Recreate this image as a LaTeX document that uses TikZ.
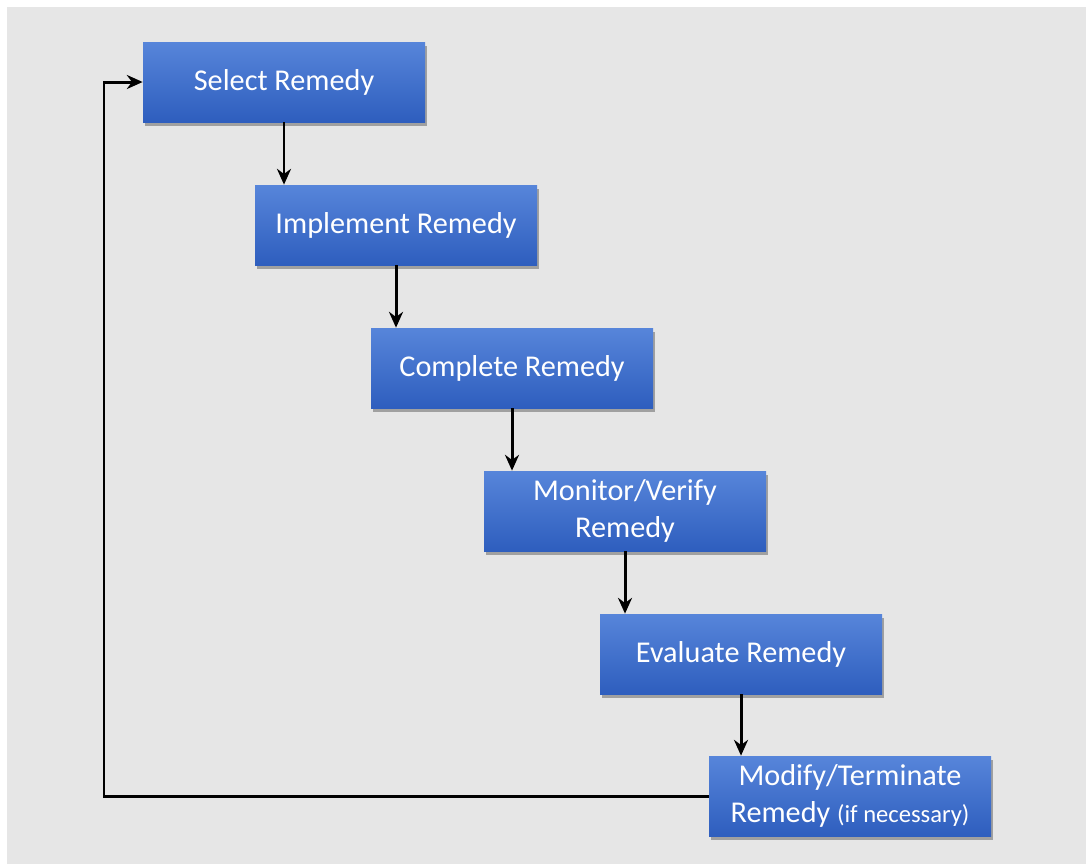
\documentclass[tikz,border=0pt]{standalone}
\usepackage{fontspec}
\setmainfont{Carlito}
\usetikzlibrary{shadows,arrows.meta}
\definecolor{boxtop}{HTML}{5785DA}
\definecolor{boxbot}{HTML}{2E5EBE}
\definecolor{bg}{HTML}{E6E6E6}
\tikzset{
 stepbox/.style={rectangle, minimum width=5.64cm, minimum height=1.6cm, inner sep=2pt,
  top color=boxtop, bottom color=boxbot, text=white, align=center,
  font=\fontsize{17.2}{21.5}\selectfont,
  drop shadow={shadow xshift=0.04cm, shadow yshift=-0.08cm, fill=black, opacity=0.3}},
 flow/.style={-{Stealth[length=9pt,width=8pt]}, line width=1.7pt}
}
\begin{document}
\begin{tikzpicture}
\useasboundingbox (0,0) rectangle (21.72,-17.28);
\fill[bg] (0.14,-0.14) rectangle (21.72,-17.28);

\node[stepbox] (s1) at (5.68,-1.64) {Select Remedy};
\node[stepbox] (s2) at (7.92,-4.50) {Implement Remedy};
\node[stepbox] (s3) at (10.24,-7.36) {Complete Remedy};
\node[stepbox] (s4) at (12.50,-10.22) {Monitor/Verify\\Remedy};
\node[stepbox] (s5) at (14.82,-13.08) {Evaluate Remedy};
\node[stepbox] (s6) at (17.00,-15.92) {Modify/Terminate\\Remedy {\fontsize{14}{17}\selectfont(if necessary)}};

% steps down the cascade
\foreach \a/\b in {s1/s2,s2/s3,s3/s4,s4/s5,s5/s6}
 \draw[flow] (\a.south) -- (\a.south |- \b.north);

% loop back to the start
\coordinate (back) at (2.08,0);
\draw[flow] (s6.west) -- (s6.west -| back) -- (back |- s1.west) -- (s1.west);

\end{tikzpicture}
\end{document}
